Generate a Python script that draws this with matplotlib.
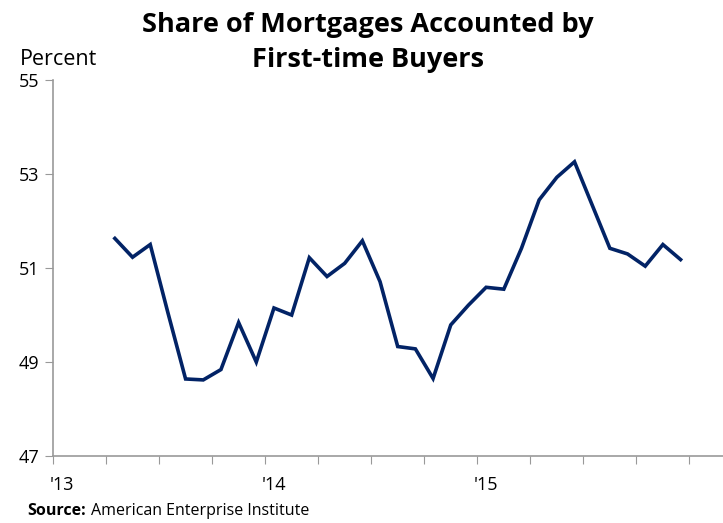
import numpy as np
import matplotlib.pyplot as plt
from matplotlib.ticker import FixedLocator

plt.rcParams['font.family'] = ['Open Sans', 'DejaVu Sans']

# monthly share, Apr 2013 .. Dec 2015 (months counted from Jan 2013)
months = np.arange(3, 36)
share = [51.63, 51.23, 51.50, 50.05, 48.64, 48.62, 48.84, 49.84, 49.00, 50.15,
         50.00, 51.22, 50.82, 51.10, 51.58, 50.71, 49.33, 49.28, 48.65, 49.79,
         50.21, 50.59, 50.55, 51.42, 52.45, 52.93, 53.26, 52.34, 51.42, 51.30,
         51.04, 51.50, 51.18]
year_labels = ["'13", "'14", "'15"]
year_pos = [0, 12, 24]
yticks = [47, 49, 51, 53, 55]

fig = plt.figure(figsize=(7.23, 5.23), dpi=100)
ax = fig.add_axes([0.0733, 0.128, 0.9267, 0.719])

ax.plot(months + 0.5, share, color='#022366', lw=2.6, solid_joinstyle='miter')

ax.set_xlim(0, 37.9)
ax.set_ylim(47, 55)
ax.set_yticks(yticks)
ax.set_yticklabels([str(t) for t in yticks], fontsize=13)

# quarterly tick marks, year labels centred on January
ax.xaxis.set_major_locator(FixedLocator(np.arange(0, 37, 3)))
ax.xaxis.set_ticklabels([])
ax.xaxis.set_minor_locator(FixedLocator([p + 0.5 for p in year_pos]))
ax.xaxis.set_minor_formatter(plt.FixedFormatter(year_labels))
ax.tick_params(axis='x', which='minor', length=0, pad=14, labelsize=13)
ax.tick_params(axis='x', which='major', length=6, color='#999999', direction='out')
ax.tick_params(axis='y', length=6, color='#999999', direction='out', pad=4)

for s in ['top', 'right']:
    ax.spines[s].set_visible(False)
for s in ['left', 'bottom']:
    ax.spines[s].set_color('#999999')
    ax.spines[s].set_linewidth(1.2)

fig.text(0.509, 0.978, 'Share of Mortgages Accounted by\nFirst-time Buyers',
         ha='center', va='top', fontsize=19.5, fontweight='bold', linespacing=1.45)
fig.text(0.028, 0.886, 'Percent', ha='left', va='center', fontsize=15.5)
fig.text(0.037, 0.022, 'Source:', ha='left', va='center', fontsize=11.5, fontweight='bold')
fig.text(0.126, 0.022, 'American Enterprise Institute', ha='left', va='center', fontsize=11.5)

fig.savefig('out.png', dpi=100)
